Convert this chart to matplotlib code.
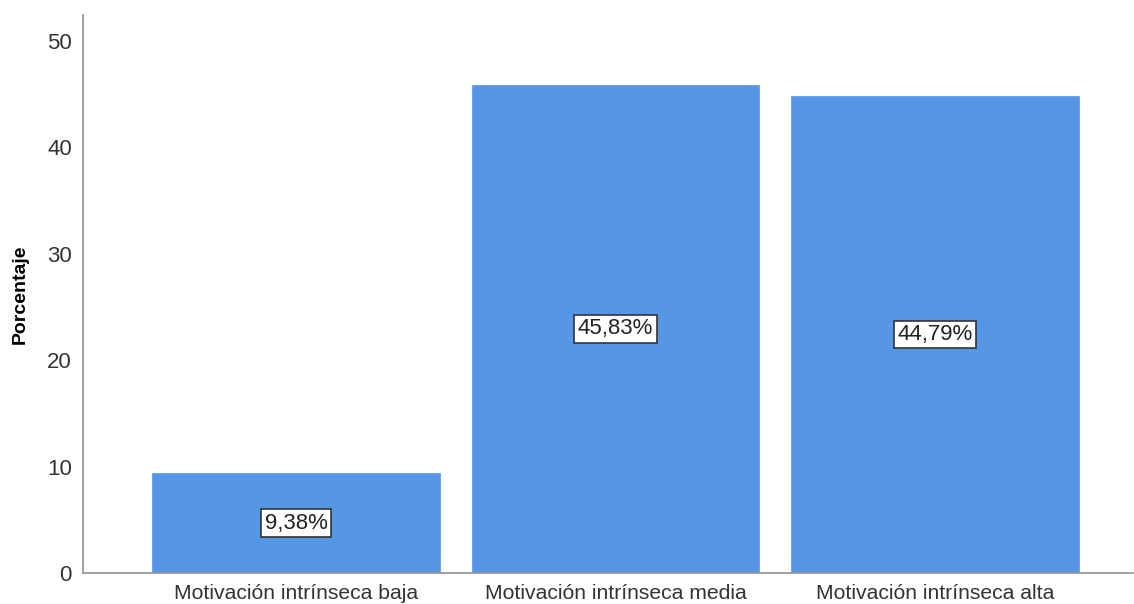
import matplotlib.pyplot as plt

categorias = ['Motivación intrínseca baja', 'Motivación intrínseca media', 'Motivación intrínseca alta']
porcentajes = [9.38, 45.83, 44.79]
etiquetas = ['9,38%', '45,83%', '44,79%']

plt.rcParams['font.family'] = ['Liberation Sans', 'DejaVu Sans']

fig = plt.figure(figsize=(11.34, 6.04), dpi=100)
ax = fig.add_axes([83 / 1134, 1 - 573 / 604, 1050 / 1134, 558 / 604])

x = range(len(categorias))
ax.bar(x, porcentajes, width=0.9, color='#5596E5', edgecolor='#5596E5', linewidth=0.5)

for i, (v, t) in enumerate(zip(porcentajes, etiquetas)):
    ax.text(i, v / 2, t, ha='center', va='center', fontsize=16, color='#222222',
            bbox=dict(boxstyle='square,pad=0.15', facecolor='white', edgecolor='#333333', linewidth=1.2))

ax.set_xlim(-0.667, 2.62)
ax.set_ylim(0, 52.4)
ax.set_xticks(list(x))
ax.set_xticklabels(categorias, fontsize=15.2, color='#333333')
ax.set_yticks([0, 10, 20, 30, 40, 50])
ax.tick_params(axis='y', labelsize=16, labelcolor='#333333', length=0, pad=8)
ax.tick_params(axis='x', length=0, pad=8)
ax.set_ylabel('Porcentaje', fontsize=14, fontweight='bold')
ax.yaxis.set_label_coords(-0.052, 0.5)

for s in ['top', 'right']:
    ax.spines[s].set_visible(False)
for s in ['left', 'bottom']:
    ax.spines[s].set_color('#999999')
    ax.spines[s].set_linewidth(1.3)

fig.savefig('out.png', dpi=100)
